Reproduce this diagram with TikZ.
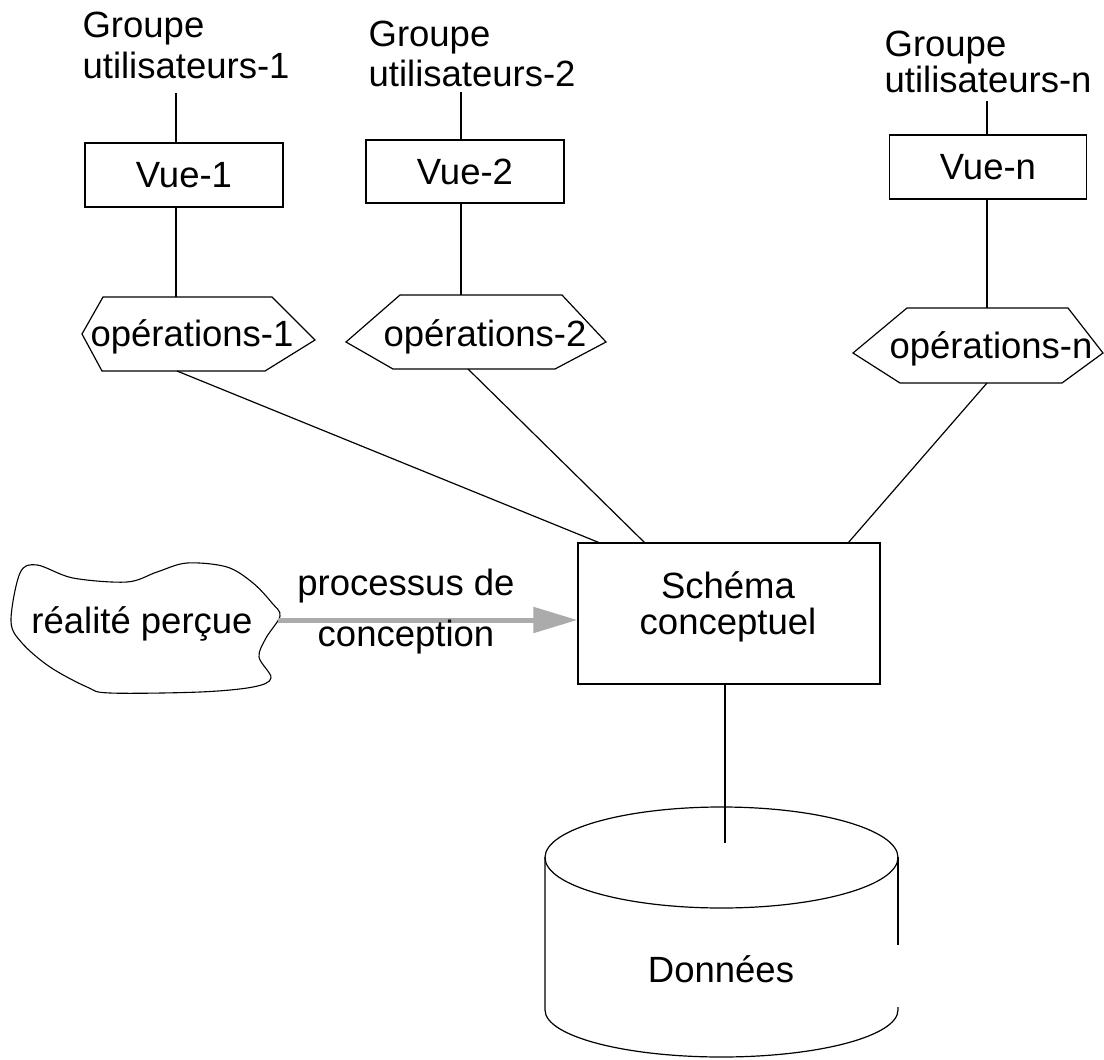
\documentclass[tikz,border=0pt]{standalone}
\usepackage{fontspec}
\setmainfont{Liberation Sans}
\usetikzlibrary{arrows.meta}
\definecolor{arrgray}{HTML}{ABABAB}
\begin{document}
\begin{tikzpicture}[x=1pt,y=-1pt,line width=1.2pt,
  lbl/.style={font=\fontsize{36.5}{40}\selectfont,inner sep=0pt},
  boxnode/.style={draw,inner sep=0pt,font=\fontsize{36.5}{40}\selectfont},
  shapeline/.style={draw,line width=1.2pt,line join=miter},
  conn/.style={draw,line width=1.2pt},
  flow/.style={draw=arrgray,line width=5pt,-{Triangle[length=44pt,width=25pt]}}]
\fill[white] (0,0) rectangle (1104,1060);
\useasboundingbox (0,0) rectangle (1104,1060);

% user groups
\node[lbl,anchor=north west,align=left,font=\fontsize{36.5}{41}\selectfont] (g1) at (82,11) {Groupe\\utilisateurs-1};
\node[lbl,anchor=north west,align=left,font=\fontsize{36.5}{40}\selectfont] (g2) at (368,20) {Groupe\\utilisateurs-2};
\node[lbl,anchor=north west,align=left,font=\fontsize{36.5}{36}\selectfont] (gn) at (884,30) {Groupe\\utilisateurs-n};

% views
\node[boxnode,minimum width=198pt,minimum height=64pt] (v1) at (184,175) {Vue-1};
\node[boxnode,minimum width=198pt,minimum height=63pt] (v2) at (465,171.5) {Vue-2};
\node[boxnode,minimum width=197pt,minimum height=64pt] (vn) at (988,167) {Vue-n};

% operations (hexagons)
\draw[shapeline] (82,334) -- (103,297) -- (272,297) -- (315,340) -- (265,371) -- (102,371) -- cycle;
\node[lbl,anchor=base] (o1) at (192,346) {opérations-1};
\draw[shapeline] (346,342) -- (400,295) -- (562,295) -- (606,342) -- (555,369) -- (393,369) -- cycle;
\node[lbl,anchor=base] (o2) at (485,346) {opérations-2};
\draw[shapeline] (853,353) -- (907,308) -- (1068,308) -- (1103,353) -- (1062,383) -- (900,383) -- cycle;
\node[lbl,anchor=base] (on) at (991,358) {opérations-n};

% connection points
\coordinate (l1) at (176,93);
\coordinate (l2) at (461,92);
\coordinate (ln) at (987,101);
\coordinate (o1top) at (176,297);
\coordinate (o2top) at (461,295);
\coordinate (ontop) at (987,308);
\coordinate (o1bot) at (177,371);
\coordinate (o2bot) at (468,369);
\coordinate (onbot) at (987,383);

% schema
\node[draw,inner sep=0pt,minimum width=302pt,minimum height=141pt] (schema) at (729,613.5) {};
\node[lbl,align=center,font=\fontsize{36.5}{36}\selectfont] (schtxt) at (728,607) {Schéma\\conceptuel};
\coordinate (s1) at (600,543);
\coordinate (s2) at (645,543);
\coordinate (sn) at (848,543);

% vertical connectors
\draw[conn] (l1) -- (l1 |- v1.north);
\draw[conn] (l1 |- v1.south) -- (o1top);
\draw[conn] (l2) -- (l2 |- v2.north);
\draw[conn] (l2 |- v2.south) -- (o2top);
\draw[conn] (ln) -- (ln |- vn.north);
\draw[conn] (ln |- vn.south) -- (ontop);

% operations to schema
\draw[conn] (o1bot) -- (s1);
\draw[conn] (o2bot) -- (s2);
\draw[conn] (onbot) -- (sn);

% cloud
\draw[shapeline,line width=1.1pt] plot[smooth cycle,tension=0.55] coordinates {
 (20,573) (37,565) (73,578) (127,582) (157,572) (187,563) (227,567)
 (253,583) (272,603) (280,616) (266,638) (259,657) (271,678) (253,687)
 (200,692) (110,693) (87,687) (50,667) (22,643) (11,621)};
\node[lbl,anchor=base] (real) at (142,633) {réalité perçue};
\coordinate (cloudr) at (278,620);

% design process arrow
\draw[flow] (cloudr) -- (cloudr -| schema.west);
\node[lbl,align=center,font=\fontsize{36.5}{51}\selectfont] (proc) at (406,612) {processus de\\conception};

% database cylinder
\draw[shapeline] (721.5,857.5) ellipse [x radius=176.5pt, y radius=50.5pt];
\draw[shapeline] (545,857) -- (545,1010) arc[start angle=180,end angle=360,x radius=176.5pt,y radius=47pt] -- (898,1007);
\draw[shapeline] (898,857) -- (898,945);
\node[lbl,anchor=base] (db) at (721,982) {Données};
\coordinate (dbin) at (725,843);
\draw[conn] (dbin |- schema.south) -- (dbin);
\end{tikzpicture}
\end{document}
